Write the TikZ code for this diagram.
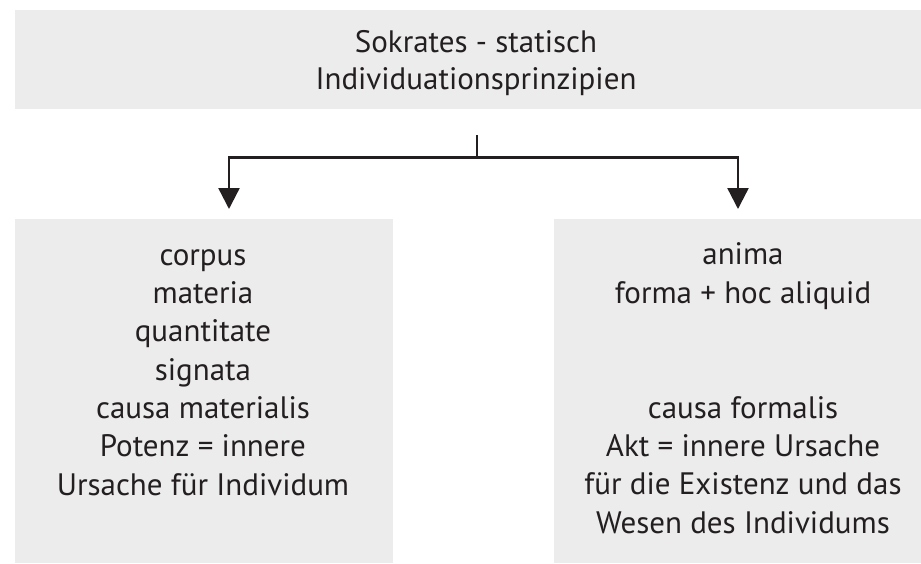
\documentclass[tikz,border=0pt]{standalone}
\usepackage{fontspec}
\setmainfont{PT Sans}
\usetikzlibrary{arrows.meta}
\definecolor{panel}{HTML}{ECECEC}
\definecolor{ink}{HTML}{231F20}
\tikzset{
  panelbox/.style={fill=panel, draw=none, inner sep=0pt, anchor=north west},
  label/.style={text=ink, align=center, inner sep=0pt, anchor=base,
    font=\fontsize{31}{38.3}\selectfont},
  link/.style={draw=ink, line width=2.4pt},
  linkarrow/.style={link, -{Triangle[width=21pt,length=21pt]}},
}
\begin{document}
\begin{tikzpicture}[x=1pt,y=1pt]
  \useasboundingbox (0,0) rectangle (921,-563);

  % panels
  \node[panelbox, minimum width=906pt, minimum height=99pt] (top) at (15,-10) {};
  \node[panelbox, minimum width=378pt, minimum height=344pt] (lbox) at (15,-219) {};
  \node[panelbox, minimum width=367pt, minimum height=344pt] (rbox) at (554,-219) {};

  % texts (anchored at the baseline of their last line)
  \node[label, font=\fontsize{31}{37}\selectfont] (toptext) at (476,-89)
    {Sokrates - statisch\\Individuationsprinzipien};
  \node[label] (ltext) at (203,-495)
    {corpus\\materia\\quantitate\\signata\\causa materialis\\Potenz = innere\\Ursache für Individum};
  \node[label] (rtext) at (743,-533)
    {anima\\forma + hoc aliquid\\[76.6pt]causa formalis\\Akt = innere Ursache\\für die Existenz und das\\Wesen des Individums};

  % connectors
  \coordinate (stem) at ([yshift=-26pt]top.south -| 477,0);
  \coordinate (fork) at ([yshift=-48pt]top.south -| 477,0);
  \coordinate (ltip) at ([yshift=10pt]lbox.north -| 229,0);
  \coordinate (rtip) at ([yshift=10pt]rbox.north -| 738,0);
  \draw[link] (stem) -- (fork);
  \draw[linkarrow] (fork) -| (ltip);
  \draw[linkarrow] (fork) -| (rtip);
\end{tikzpicture}
\end{document}
